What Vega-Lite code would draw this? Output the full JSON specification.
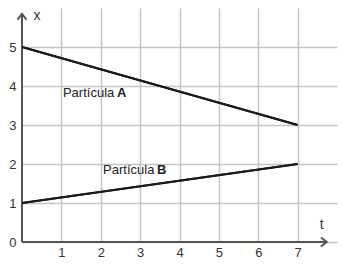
{
  "$schema": "https://vega.github.io/schema/vega-lite/v6.json",
  "autosize": "none",
  "width": 315,
  "height": 234,
  "padding": {"left": 22, "top": 8, "right": 5, "bottom": 24},
  "background": "white",
  "config": {"view": {"stroke": null}, "font": "Liberation Sans"},
  "datasets": {
    "lines": [
      {"series": "A", "t": 0, "xv": 5},
      {"series": "A", "t": 7, "xv": 3},
      {"series": "B", "t": 0, "xv": 1},
      {"series": "B", "t": 7, "xv": 2}
    ],
    "axislines": [
      {"t": 0, "xv": 0, "t2": 0, "xv2": 5.85},
      {"t": 0, "xv": 0, "t2": 7.74, "xv2": 0}
    ],
    "arrowY": [{"t": 0, "xv": 5.85}],
    "arrowX": [{"t": 7.74, "xv": 0}],
    "labels": [
      {"t": 1.04, "xv": 3.72, "text": "Partícula"},
      {"t": 2.06, "xv": 1.74, "text": "Partícula"}
    ],
    "boldlabels": [
      {"t": 2.41, "xv": 3.72, "text": "A"},
      {"t": 3.43, "xv": 1.74, "text": "B"}
    ],
    "titles": [
      {"t": 0.38, "xv": 5.69, "text": "x"},
      {"t": 7.61, "xv": 0.33, "text": "t"}
    ]
  },
  "layer": [
    {
      "data": {"name": "lines"},
      "mark": {"type": "line", "color": "#1a1a1a", "strokeWidth": 2},
      "encoding": {
        "x": {
          "field": "t", "type": "quantitative",
          "scale": {"domain": [0, 8], "nice": false},
          "axis": {
            "values": [1, 2, 3, 4, 5, 6, 7], "title": null, "domain": false, "ticks": false,
            "grid": true, "gridColor": "#c4c4c4", "gridWidth": 1.5,
            "labelFont": "Liberation Sans", "labelFontSize": 13, "labelColor": "#333", "labelPadding": 4
          }
        },
        "y": {
          "field": "xv", "type": "quantitative",
          "scale": {"domain": [0, 6], "nice": false},
          "axis": {
            "values": [0, 1, 2, 3, 4, 5], "title": null, "domain": false, "ticks": false,
            "grid": true, "gridColor": "#c4c4c4", "gridWidth": 1.5,
            "labelFont": "Liberation Sans", "labelFontSize": 13, "labelColor": "#333", "labelPadding": 6
          }
        },
        "detail": {"field": "series"}
      }
    },
    {
      "data": {"name": "axislines"},
      "mark": {"type": "rule", "color": "#555", "strokeWidth": 2},
      "encoding": {
        "x": {"field": "t", "type": "quantitative"},
        "y": {"field": "xv", "type": "quantitative"},
        "x2": {"field": "t2"},
        "y2": {"field": "xv2"}
      }
    },
    {
      "data": {"name": "arrowY"},
      "mark": {"type": "point", "shape": "M-1,1.3L0,0L1,1.3", "filled": false, "color": "#555", "strokeWidth": 2, "size": 81, "opacity": 1},
      "encoding": {
        "x": {"field": "t", "type": "quantitative"},
        "y": {"field": "xv", "type": "quantitative"}
      }
    },
    {
      "data": {"name": "arrowX"},
      "mark": {"type": "point", "shape": "M-1,1.3L0,0L1,1.3", "angle": 90, "filled": false, "color": "#555", "strokeWidth": 2, "size": 81, "opacity": 1},
      "encoding": {
        "x": {"field": "t", "type": "quantitative"},
        "y": {"field": "xv", "type": "quantitative"}
      }
    },
    {
      "data": {"name": "lines"},
      "mark": {"type": "line", "color": "#1a1a1a", "strokeWidth": 2},
      "encoding": {
        "x": {"field": "t", "type": "quantitative"},
        "y": {"field": "xv", "type": "quantitative"},
        "detail": {"field": "series"}
      }
    },
    {
      "data": {"name": "labels"},
      "mark": {"type": "text", "align": "left", "baseline": "alphabetic", "font": "Liberation Sans", "fontSize": 13, "color": "#222"},
      "encoding": {
        "x": {"field": "t", "type": "quantitative"},
        "y": {"field": "xv", "type": "quantitative"},
        "text": {"field": "text"}
      }
    },
    {
      "data": {"name": "boldlabels"},
      "mark": {"type": "text", "align": "left", "baseline": "alphabetic", "font": "Liberation Sans", "fontSize": 13, "fontWeight": "bold", "color": "#222"},
      "encoding": {
        "x": {"field": "t", "type": "quantitative"},
        "y": {"field": "xv", "type": "quantitative"},
        "text": {"field": "text"}
      }
    },
    {
      "data": {"name": "titles"},
      "mark": {"type": "text", "align": "center", "baseline": "alphabetic", "font": "Liberation Sans", "fontSize": 14, "color": "#333"},
      "encoding": {
        "x": {"field": "t", "type": "quantitative"},
        "y": {"field": "xv", "type": "quantitative"},
        "text": {"field": "text"}
      }
    }
  ]
}
